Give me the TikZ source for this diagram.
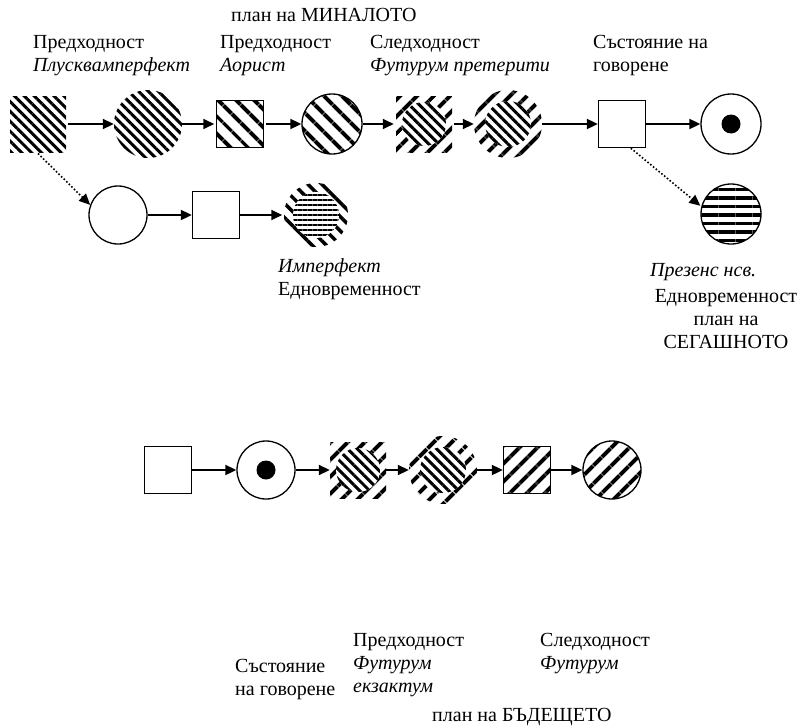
\documentclass[tikz,border=0pt]{standalone}
\usepackage{fontspec}
\setmainfont{Liberation Serif}
\usetikzlibrary{arrows.meta,patterns.meta,positioning}

\begin{document}
\begin{tikzpicture}[
    x=1pt, y=1pt,
    font=\fontsize{20}{23}\selectfont,
    box/.style={rectangle, draw, line width=1.3pt, minimum size=47pt, inner sep=0pt, fill=white},
    ring/.style={circle, draw, line width=1.3pt, minimum size=60pt, inner sep=0pt, fill=white},
    bare/.style={inner sep=0pt, minimum size=56pt},
    core/.style={circle, inner sep=0pt, minimum size=40pt, preaction={fill=white}},
    dot/.style={circle, fill=black, minimum size=19pt, inner sep=0pt},
    back/.style={pattern={Lines[angle=-45, distance=13pt, line width=4.5pt]}},
    fwd/.style={pattern={Lines[angle=45, distance=13pt, line width=4.5pt]}},
    denseback/.style={pattern={Lines[angle=-45, distance=7pt, line width=3pt]}},
    level/.style={pattern={Lines[angle=0, distance=8.5pt, line width=3.5pt]}},
    flow/.style={-{Triangle[length=11pt, width=10pt]}, line width=1.8pt},
    link/.style={-{Triangle[length=11pt, width=10pt]}, line width=1.6pt, dotted},
    lbl/.style={anchor=north west, align=left, inner sep=0pt}
]
    \useasboundingbox (0,0) rectangle (799,-725);

    % past plane
    \node[bare, rectangle, denseback] (pqp) at (38,-124) {};
    \node[bare, circle, minimum size=68pt, denseback] (pqpend) at (148,-124) {};
    \node[box, back] (aor) at (240,-124) {};
    \node[ring, back] (aorend) at (332,-124) {};
    \node[bare, rectangle, fwd] (fpr) at (424,-124) {};
    \node[core, minimum size=44pt, denseback] at (fpr) {};
    \node[bare, circle, minimum size=68pt, fwd] (fprend) at (508,-124) {};
    \node[core, minimum size=46pt, denseback] at (fprend) {};
    \node[box] (now) at (622,-124) {};
    \node[ring] (nowend) at (731,-124) {};
    \node[dot] at (nowend) {};

    \draw[flow] (pqp) -- (pqpend);
    \draw[flow] (pqpend) -- (aor);
    \draw[flow] (aor) -- (aorend);
    \draw[flow] (aorend) -- (fpr);
    \draw[flow] (fpr) -- (fprend);
    \draw[flow] (fprend) -- (now);
    \draw[flow] (now) -- (nowend);

    % imperfect
    \node[ring, minimum size=58pt] (imp) at (118,-215) {};
    \node[box] (impbox) at (216,-215) {};
    \node[bare, circle, minimum size=64pt, pattern={Lines[angle=-45, distance=10pt, line width=3.5pt]}] (impend) at (316,-215) {};
    \node[core, minimum size=46pt, pattern={Lines[angle=0, distance=5pt, line width=2.5pt]}] at (impend) {};

    \draw[link] (pqp.south) -- (imp.160);
    \draw[flow] (imp) -- (impbox);
    \draw[flow] (impbox) -- (impend);

    % present
    \node[ring, level] (pres) at (731,-214) {};
    \draw[link] (now.290) -- (pres.165);

    % future plane
    \node[box] (fnow) at (168,-470) {};
    \node[ring, minimum size=58pt] (fnowend) at (266,-470) {};
    \node[dot] at (fnowend) {};
    \node[bare, rectangle, fwd] (fex) at (358,-470) {};
    \node[core, minimum size=44pt, denseback] at (fex) {};
    \node[bare, circle, minimum size=68pt, fwd] (fexend) at (443,-470) {};
    \node[core, minimum size=46pt, denseback] at (fexend) {};
    \node[box, fwd] (fut) at (527,-470) {};
    \node[ring, minimum size=58pt, fwd] (futend) at (612,-470) {};

    \draw[flow] (fnow) -- (fnowend);
    \draw[flow] (fnowend) -- (fex);
    \draw[flow] (fex) -- (fexend);
    \draw[flow] (fexend) -- (fut);
    \draw[flow] (fut) -- (futend);

    % labels
    \node[lbl] (pastplan) at (231,-8) {план на МИНАЛОТО};
    \node[lbl] (lpqp) at (33,-35) {Предходност\\\textit{Плусквамперфект}};
    \node[lbl] (laor) at (220,-35) {Предходност\\\textit{Аорист}};
    \node[lbl] (lfpr) at (370,-35) {Следходност\\\textit{Футурум претерити}};
    \node[lbl] (lnow) at (593,-35) {Състояние на\\говорене};
    \node[lbl] (limp) at (278,-258) {\textit{Имперфект}\\Едновременност};
    \node[lbl] (lpres) at (650,-263) {\textit{Презенс нсв.}};
    \node[anchor=north, align=center, inner sep=0pt] (presplan) at (726,-289) {Едновременност\\план на\\СЕГАШНОТО};
    \node[lbl] (lfnow) at (235,-659) {Състояние\\на говорене};
    \node[lbl] (lfex) at (353,-633) {Предходност\\\textit{Футурум}\\\textit{екзактум}};
    \node[lbl] (lfut) at (540,-633) {Следходност\\\textit{Футурум}};
    \node[lbl] (futplan) at (432,-708) {план на БЪДЕЩЕТО};
\end{tikzpicture}
\end{document}
